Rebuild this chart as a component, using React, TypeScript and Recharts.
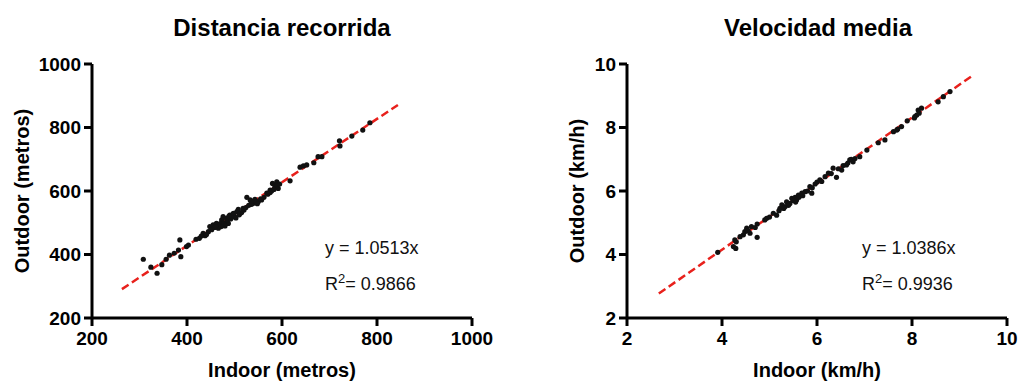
import React from 'react';
import { ScatterChart, Scatter, XAxis, YAxis, Label } from 'recharts';

// Distancia recorrida (metros)
const distIndoor = [308,324,337,347,356,363,373,382,385,387,399,403,419,426,434,438,445,448,455,462,466,473,476,483,487,490,497,505,508,512,520,526,533,540,543,550,557,568,575,580,585,589,592,617,638,645,652,667,676,684,721,722,747,770,785,
  452,458,465,470,478,480,485,492,495,500,503,510,515,518,524,530,536,545,548,555,562,570,575,578,583,590,595,430,441,460,472,488,498,535];
const distOutdoor = [385,360,341,368,385,398,404,414,446,393,425,430,448,451,467,459,472,488,493,498,483,509,519,514,498,524,528,535,542,530,540,580,572,561,574,566,572,593,603,624,614,629,608,632,675,679,682,689,708,708,758,742,773,792,815,
  478,485,492,497,500,490,508,512,518,520,515,525,532,545,548,555,558,568,560,575,580,590,595,600,605,618,622,458,463,488,488,520,530,568];
const distFitX = [263, 844];
const distFitY = [291, 871];

// Velocidad media (km/h)
const velIndoor = [3.91,4.24,4.29,4.27,4.38,4.48,4.52,4.59,4.62,4.74,4.74,4.90,4.94,5.08,5.15,5.22,5.26,5.33,5.36,5.43,5.47,5.54,5.57,5.61,5.68,5.75,5.85,5.89,5.96,6.06,6.17,6.24,6.34,6.41,6.52,6.62,6.69,6.76,6.90,7.05,7.29,7.43,7.61,7.68,7.78,7.90,8.06,8.10,8.13,8.20,8.55,8.66,8.80,
  4.30,4.45,4.55,4.70,5.00,5.20,5.30,5.40,5.50,5.55,5.62,5.70,5.80,5.90,6.00,6.10,6.30,6.45,6.55,6.65,6.72,6.80,8.15,8.05,7.70];
const velOutdoor = [4.07,4.25,4.19,4.46,4.56,4.72,4.83,4.67,4.88,4.96,4.54,5.09,5.14,5.30,5.24,5.45,5.56,5.51,5.66,5.61,5.77,5.80,5.72,5.87,5.93,5.98,6.14,5.93,6.22,6.35,6.45,6.56,6.72,6.43,6.66,6.82,6.98,6.92,7.08,7.29,7.52,7.61,7.87,7.92,8.03,8.21,8.34,8.39,8.55,8.61,8.81,8.97,9.13,
  4.40,4.62,4.75,4.85,5.18,5.38,5.45,5.55,5.70,5.65,5.80,5.85,6.00,6.10,6.28,6.30,6.55,6.70,6.80,6.88,7.00,7.02,8.45,8.30,7.95];
const velFitX = [2.67, 9.28];
const velFitY = [2.77, 9.64];

const distTicks = [200, 400, 600, 800, 1000];
const velTicks = [2, 4, 6, 8, 10];

const zip = (xs: number[], ys: number[]) => xs.map((x, i) => ({ x, y: ys[i] }));

const FONT = '"Liberation Sans", Arial, Helvetica, sans-serif';

const Dot = (props: any) => {
  const { cx, cy } = props;
  if (cx == null || cy == null) return <g />;
  return <circle cx={cx} cy={cy} r={2.6} fill="#111" />;
};
const NoDot = () => <g />;

type PanelProps = {
  width: number;
  marginLeft: number;
  marginRight: number;
  title: string;
  xLabel: string;
  yLabel: string;
  yLabelDx: number;
  ticks: number[];
  points: { x: number; y: number }[];
  fit: { x: number; y: number }[];
  eq: string;
  r2: string;
  titleX: number;
  annX: number;
};

const Panel = (p: PanelProps) => {
  const axisStyle = { stroke: '#000', strokeWidth: 3 };
  const tickStyle = { fill: '#000', fontSize: 19, fontWeight: 700, fontFamily: FONT };
  const domain: [number, number] = [p.ticks[0], p.ticks[p.ticks.length - 1]];
  return (
    <ScatterChart
      width={p.width}
      height={381}
      margin={{ top: 64, right: p.marginRight, bottom: 13, left: p.marginLeft }}
      style={{ fontFamily: FONT }}
    >
      <XAxis
        type="number"
        dataKey="x"
        domain={domain}
        ticks={p.ticks}
        allowDataOverflow
        height={50}
        axisLine={axisStyle}
        tickLine={axisStyle}
        tickSize={8}
        tickMargin={6}
        tick={tickStyle}
      >
        <Label value={p.xLabel} position="center" dy={27} fill="#000" fontSize={20} fontWeight={700} fontFamily={FONT} />
      </XAxis>
      <YAxis
        type="number"
        dataKey="y"
        domain={domain}
        ticks={p.ticks}
        allowDataOverflow
        width={60}
        axisLine={axisStyle}
        tickLine={axisStyle}
        tickSize={8}
        tickMargin={3}
        tick={tickStyle}
      >
        <Label value={p.yLabel} position="center" angle={-90} dx={p.yLabelDx} fill="#000" fontSize={20} fontWeight={700} fontFamily={FONT} />
      </YAxis>
      <Scatter
        data={p.fit}
        line={{ stroke: '#e8211c', strokeWidth: 2.5, strokeDasharray: '8 4' }}
        shape={NoDot}
        isAnimationActive={false}
      />
      <Scatter data={p.points} shape={Dot} isAnimationActive={false} />
      <text x={p.titleX} y={36} textAnchor="middle" fontSize={24} fontWeight={700} fontFamily={FONT} fill="#000">
        {p.title}
      </text>
      <text x={p.annX} y={254} fontSize={18} fontFamily={FONT} fill="#111">
        {p.eq}
      </text>
      <text x={p.annX} y={290} fontSize={18} fontFamily={FONT} fill="#111">
        R<tspan dy={-7} fontSize={13}>2</tspan><tspan dy={7}>{'= ' + p.r2}</tspan>
      </text>
    </ScatterChart>
  );
};

export default function App() {
  return (
    <div style={{ position: 'absolute', left: 0, top: 0, width: 1019, height: 381, background: '#fff', display: 'flex' }}>
      <Panel
        width={510}
        marginLeft={32}
        marginRight={38}
        title="Distancia recorrida"
        xLabel="Indoor (metros)"
        yLabel="Outdoor (metros)"
        yLabelDx={-40}
        ticks={distTicks}
        points={zip(distIndoor, distOutdoor)}
        fit={zip(distFitX, distFitY)}
        eq="y = 1.0513x"
        r2="0.9866"
        titleX={282}
        annX={325}
      />
      <Panel
        width={509}
        marginLeft={57}
        marginRight={12}
        title="Velocidad media"
        xLabel="Indoor (km/h)"
        yLabel="Outdoor (km/h)"
        yLabelDx={-20}
        ticks={velTicks}
        points={zip(velIndoor, velOutdoor)}
        fit={zip(velFitX, velFitY)}
        eq="y = 1.0386x"
        r2="0.9936"
        titleX={308}
        annX={352}
      />
    </div>
  );
}
